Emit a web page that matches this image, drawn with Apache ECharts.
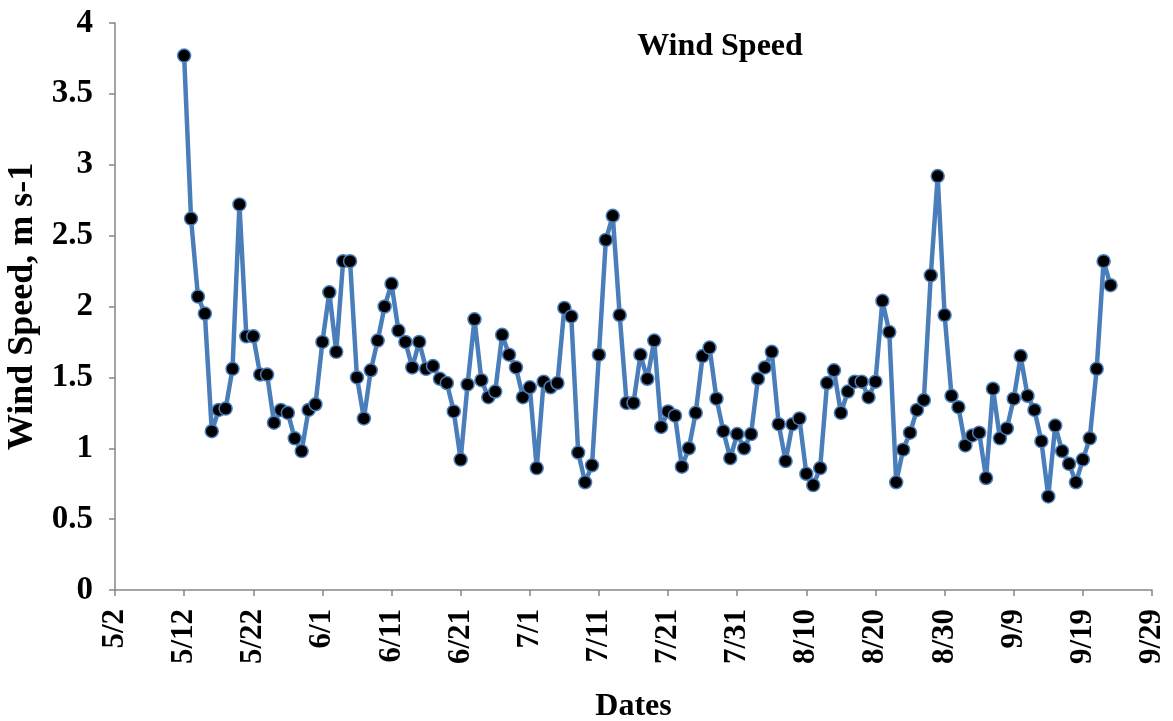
<!DOCTYPE html>
<html>
<head>
<meta charset="utf-8">
<script src="https://cdn.jsdelivr.net/npm/echarts@6/dist/echarts.min.js"></script>
<style>
html,body{margin:0;padding:0;background:#fff;}
#chart{width:1173px;height:721px;}
</style>
</head>
<body>
<div id="chart"></div>
<script>
const dates = [
'5/12','5/13','5/14','5/15','5/16','5/17','5/18','5/19','5/20','5/21','5/22','5/23','5/24','5/25','5/26','5/27','5/28','5/29','5/30','5/31',
'6/1','6/2','6/3','6/4','6/5','6/6','6/7','6/8','6/9','6/10','6/11','6/12','6/13','6/14','6/15','6/16','6/17','6/18','6/19','6/20','6/21','6/22','6/23','6/24','6/25','6/26','6/27','6/28','6/29','6/30',
'7/1','7/2','7/3','7/4','7/5','7/6','7/7','7/8','7/9','7/10','7/11','7/12','7/13','7/14','7/15','7/16','7/17','7/18','7/19','7/20','7/21','7/22','7/23','7/24','7/25','7/26','7/27','7/28','7/29','7/30','7/31',
'8/1','8/2','8/3','8/4','8/5','8/6','8/7','8/8','8/9','8/10','8/11','8/12','8/13','8/14','8/15','8/16','8/17','8/18','8/19','8/20','8/21','8/22','8/23','8/24','8/25','8/26','8/27','8/28','8/29','8/30','8/31',
'9/1','9/2','9/3','9/4','9/5','9/6','9/7','9/8','9/9','9/10','9/11','9/12','9/13','9/14','9/15','9/16','9/17','9/18','9/19','9/20','9/21','9/22','9/23'
];
const windSpeed = [
3.77,2.62,2.07,1.95,1.12,1.27,1.28,1.56,2.72,1.79,1.79,1.52,1.52,1.18,1.27,1.25,1.07,0.98,1.27,1.31,
1.75,2.10,1.68,2.32,2.32,1.50,1.21,1.55,1.76,2.00,2.16,1.83,1.75,1.57,1.75,1.56,1.58,1.49,1.46,1.26,0.92,1.45,1.91,1.48,1.36,1.40,1.80,1.66,1.57,1.36,
1.43,0.86,1.47,1.43,1.46,1.99,1.93,0.97,0.76,0.88,1.66,2.47,2.64,1.94,1.32,1.32,1.66,1.49,1.76,1.15,1.26,1.23,0.87,1.00,1.25,1.65,1.71,1.35,1.12,0.93,1.10,
1.00,1.10,1.49,1.57,1.68,1.17,0.91,1.17,1.21,0.82,0.74,0.86,1.46,1.55,1.25,1.40,1.47,1.47,1.36,1.47,2.04,1.82,0.76,0.99,1.11,1.27,1.34,2.22,2.92,1.94,1.37,
1.29,1.02,1.09,1.11,0.79,1.42,1.07,1.14,1.35,1.65,1.37,1.27,1.05,0.66,1.16,0.98,0.89,0.76,0.92,1.07,1.56,2.32,2.15
];
const tickLabels = ['5/2','5/12','5/22','6/1','6/11','6/21','7/1','7/11','7/21','7/31','8/10','8/20','8/30','9/9','9/19','9/29'];
const startDate = '5/2';

function dayOffset(s) {
  const [m, d] = s.split('/').map(Number);
  const [m0, d0] = startDate.split('/').map(Number);
  return Math.round((Date.UTC(2019, m - 1, d) - Date.UTC(2019, m0 - 1, d0)) / 86400000);
}
const seriesData = dates.map((d, i) => [dayOffset(d), windSpeed[i]]);
const xMax = dayOffset(tickLabels[tickLabels.length - 1]);

const font = 'Liberation Serif, Times New Roman, serif';
const axisColor = '#868686';

const chart = echarts.init(document.getElementById('chart'), null, {renderer: 'canvas'});
chart.setOption({
  backgroundColor: '#ffffff',
  animation: false,
  title: {
    text: 'Wind Speed',
    left: 715, top: 26, textAlign: 'center',
    textStyle: {fontFamily: font, fontWeight: 'bold', fontSize: 32, color: '#000'}
  },
  grid: {left: 115, right: 21, top: 23, bottom: 131, containLabel: false, outerBoundsMode: 'none'},
  xAxis: {
    type: 'value',
    min: 0, max: xMax, interval: 10,
    name: 'Dates', nameLocation: 'middle', nameGap: 101,
    nameTextStyle: {fontFamily: font, fontWeight: 'bold', fontSize: 32, color: '#000'},
    axisLine: {show: true, lineStyle: {color: axisColor, width: 1.5}},
    axisTick: {show: true, length: 6, lineStyle: {color: axisColor, width: 1.5}},
    splitLine: {show: false},
    axisLabel: {
      rotate: 90, margin: 19,
      fontFamily: font, fontWeight: 'bold', fontSize: 31, color: '#000',
      formatter: v => tickLabels[Math.round(v / 10)]
    }
  },
  yAxis: {
    type: 'value',
    min: 0, max: 4, interval: 0.5,
    name: 'Wind Speed, m s-1', nameLocation: 'middle', nameGap: 72, nameRotate: 90,
    nameTextStyle: {fontFamily: font, fontWeight: 'bold', fontSize: 36, color: '#000'},
    axisLine: {show: true, lineStyle: {color: axisColor, width: 1.5}},
    axisTick: {show: true, length: 6, lineStyle: {color: axisColor, width: 1.5}},
    splitLine: {show: false},
    axisLabel: {
      margin: 22,
      fontFamily: font, fontWeight: 'bold', fontSize: 33, color: '#000'
    }
  },
  series: [{
    type: 'line',
    data: seriesData,
    lineStyle: {color: '#4a7ebb', width: 4.5},
    symbol: 'circle',
    symbolSize: 13,
    itemStyle: {color: '#000000', borderColor: '#4a7ebb', borderWidth: 1.5}
  }]
});
</script>
</body>
</html>
